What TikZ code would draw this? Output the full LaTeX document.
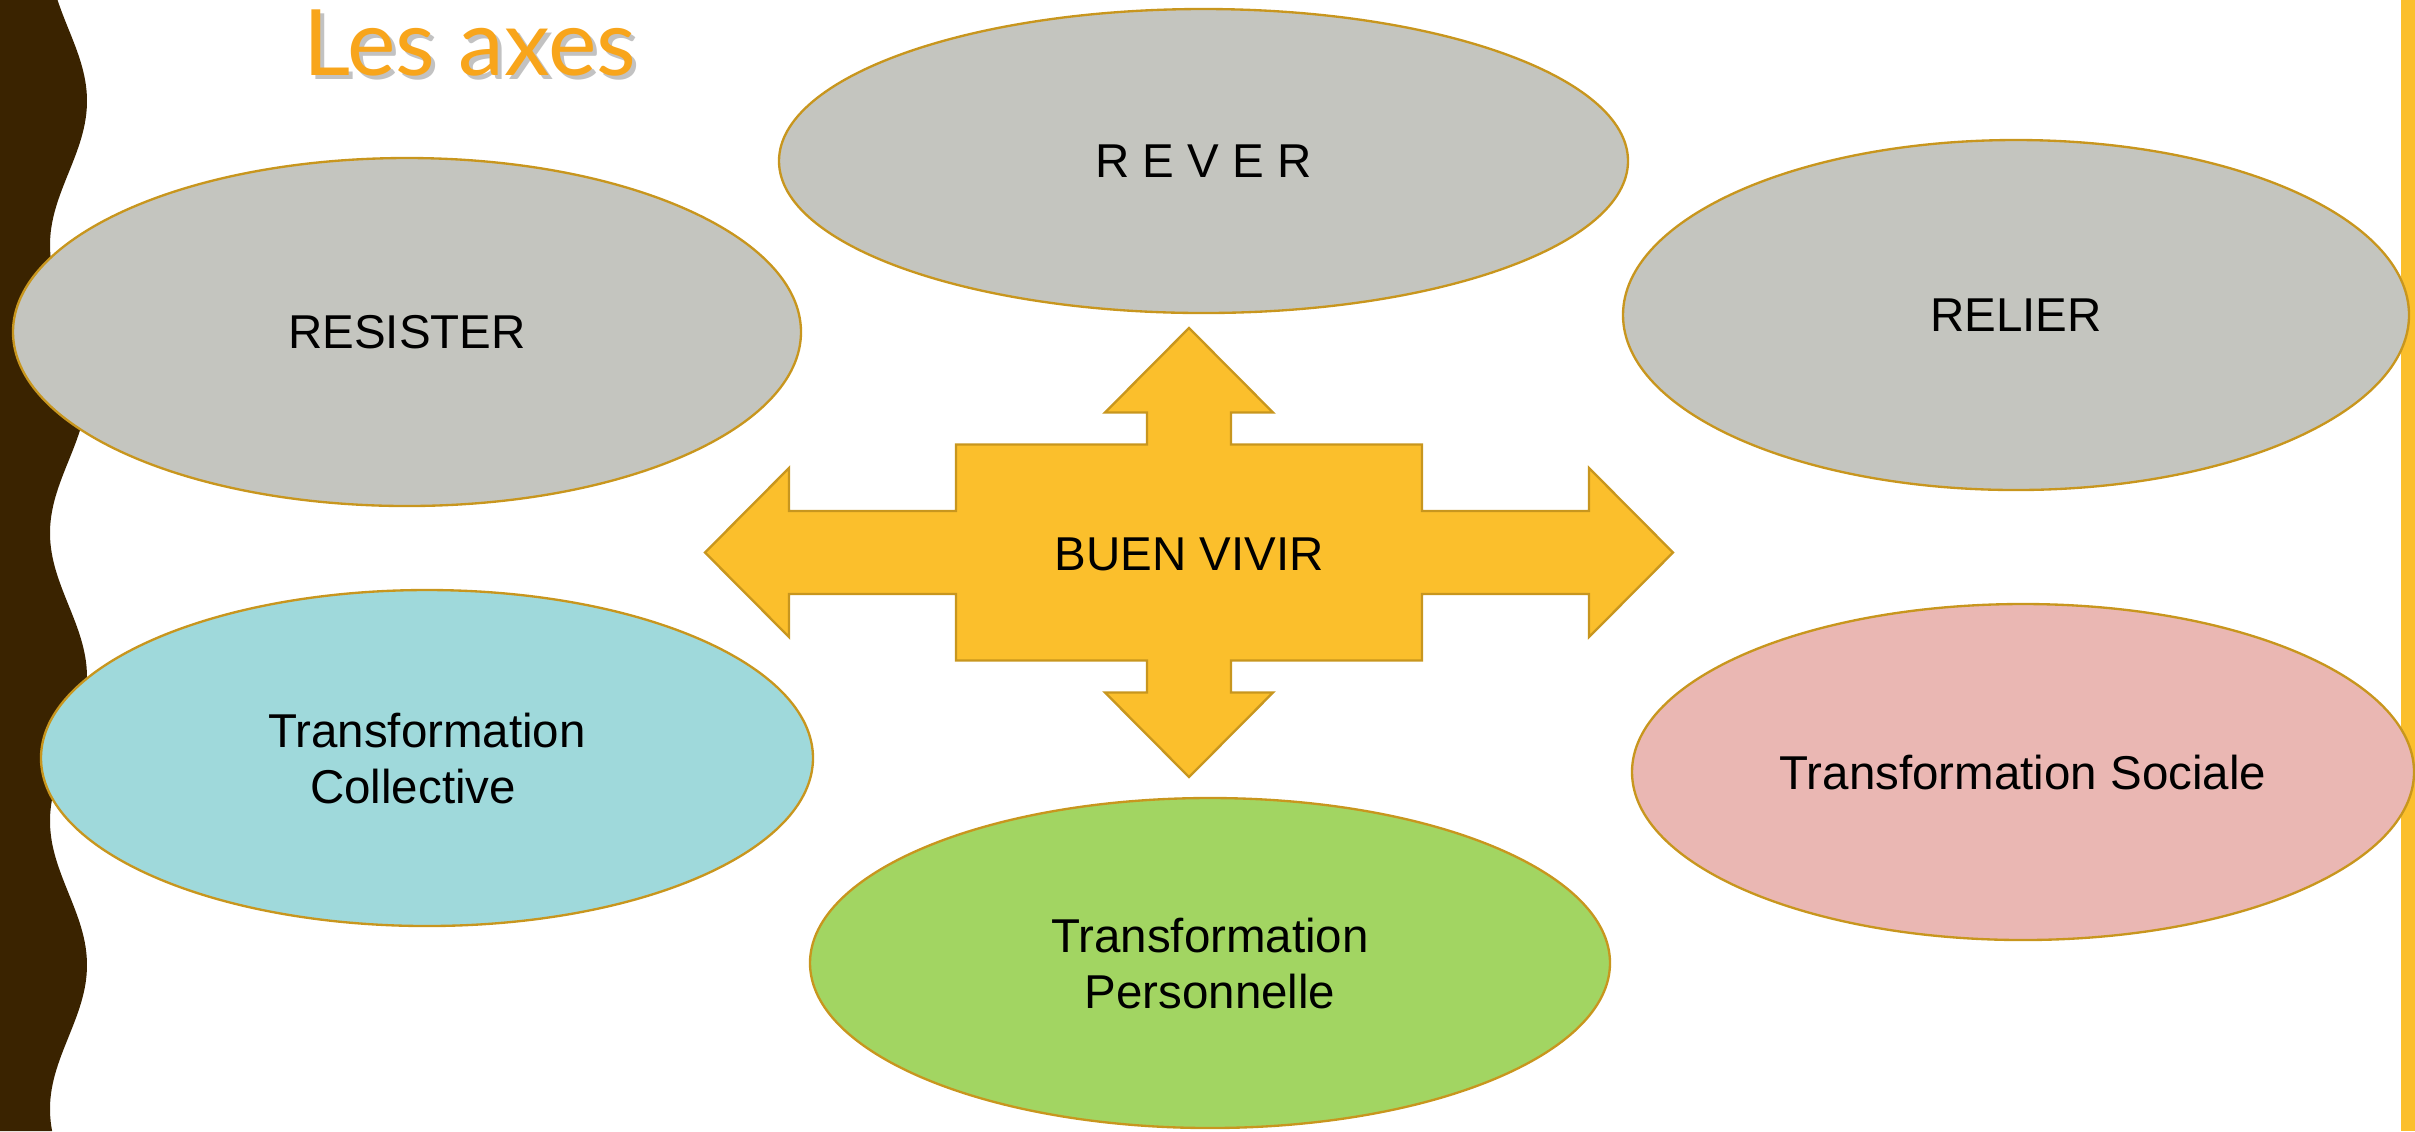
\documentclass[tikz,border=0pt]{standalone}
\usepackage{fontspec}
\setmainfont{Liberation Sans}
\newfontfamily\titlefont{Lato}
\usetikzlibrary{shapes.geometric}
\definecolor{bandbrown}{HTML}{3A2300}
\definecolor{baryellow}{HTML}{FBBF2C}
\definecolor{edgegold}{HTML}{C8961E}
\definecolor{titleorange}{HTML}{F8A51B}
\definecolor{fillgray}{HTML}{C4C5BF}
\definecolor{fillcyan}{HTML}{9FD9DB}
\definecolor{fillgreen}{HTML}{A2D562}
\definecolor{fillpink}{HTML}{EAB7B3}
\tikzset{
  axe/.style={ellipse, draw=edgegold, line width=0.7pt, inner sep=0pt, align=center,
    font=\fontsize{14.25pt}{16.8pt}\selectfont, text=black},
  titletext/.style={inner sep=0pt, anchor=base west, font=\titlefont\fontsize{27.5pt}{30pt}\selectfont}
}
\begin{document}
\begin{tikzpicture}[x=0.3pt, y=-0.3pt]
\useasboundingbox (0,0) rectangle (2415,1131);
% left wavy band
\fill[bandbrown] (0,0) -- plot[domain=0:1131, samples=240, variable=\t] ({68.5+18.5*cos(1.25*(\t-101))}, \t) -- (0,1131) -- cycle;
% right bar
\fill[baryellow] (2401,0) rectangle (2415,1131);
% title
\node[titletext, text=black!40, opacity=0.6] (titleshadow) at (307,79) {Les axes};
\node[titletext, text=titleorange] (title) at (303,75) {Les axes};
% ellipses
\node[axe, fill=fillgray, minimum width=788*0.3pt, minimum height=348*0.3pt] (resister) at (407,332) {RESISTER};
\node[axe, fill=fillgray, minimum width=849*0.3pt, minimum height=304*0.3pt] (rever) at (1203.5,161) {R E V E R};
\node[axe, fill=fillgray, minimum width=786*0.3pt, minimum height=350*0.3pt] (relier) at (2016,315) {RELIER};
\node[axe, fill=fillcyan, minimum width=772*0.3pt, minimum height=336*0.3pt] (collective) at (427,758) {Transformation\\Collective\hspace*{8.4pt}};
\node[axe, fill=fillpink, minimum width=782*0.3pt, minimum height=336*0.3pt] (sociale) at (2023,772) {Transformation Sociale};
\node[axe, fill=fillgreen, minimum width=800*0.3pt, minimum height=330*0.3pt] (personnelle) at (1210,963) {Transformation\\Personnelle};
% central four-way arrow
\begin{scope}[shift={(1189,552.5)}]
\filldraw[fill=baryellow, draw=edgegold, line width=0.7pt, line join=miter]
  (0,-224.5) -- (84,-140) -- (42,-140) -- (42,-108) -- (233,-108) -- (233,-41.5) -- (400,-41.5) -- (400,-84.5)
  -- (484,0) -- (400,84.5) -- (400,41.5) -- (233,41.5) -- (233,108) -- (42,108) -- (42,140) -- (84,140)
  -- (0,224.5) -- (-84,140) -- (-42,140) -- (-42,108) -- (-233,108) -- (-233,41.5) -- (-400,41.5) -- (-400,84.5)
  -- (-484,0) -- (-400,-84.5) -- (-400,-41.5) -- (-233,-41.5) -- (-233,-108) -- (-42,-108) -- (-42,-140) -- (-84,-140) -- cycle;
\node[font=\fontsize{14.25pt}{16.8pt}\selectfont, inner sep=0pt] (buen) at (0,2) {BUEN VIVIR};
\end{scope}
\end{tikzpicture}
\end{document}
